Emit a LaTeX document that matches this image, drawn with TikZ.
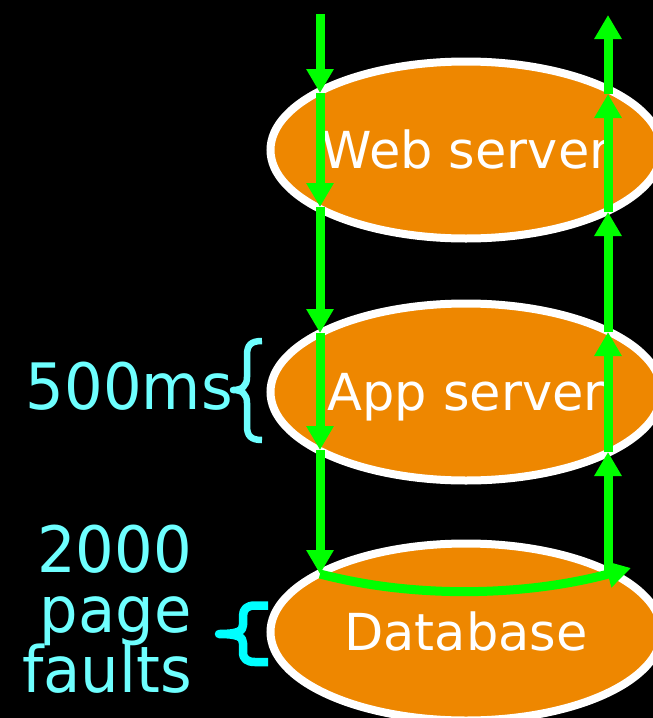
\documentclass[tikz,border=0pt]{standalone}
\usepackage{fontspec}
\setmainfont{DejaVu Sans}
\newfontfamily\lblfont[FakeStretch=0.95]{DejaVu Sans}
\usetikzlibrary{arrows.meta,shapes.geometric}
\definecolor{boxorange}{RGB}{238,135,0}
\definecolor{flowgreen}{RGB}{0,255,0}
\definecolor{lblcyan}{RGB}{110,255,255}
\definecolor{bracecyan}{RGB}{0,255,255}
\begin{document}
\begin{tikzpicture}[x=1pt,y=-1pt,
  server/.style={ellipse, draw=white, line width=8pt, fill=boxorange,
    minimum width=391pt, minimum height=177pt, inner sep=0pt},
  servertext/.style={text=white, inner sep=0pt,
    font=\fontsize{51}{51}\selectfont, text height=37pt, text depth=0pt},
  flow/.style={draw=flowgreen, line width=9pt, -{Triangle[length=24pt,width=26pt]}},
  lbl/.style={text=lblcyan, inner sep=0pt, font=\lblfont\fontsize{64}{64}\selectfont},
  bracestyle/.style={line join=round, line cap=butt}
]
\useasboundingbox (0,0) rectangle (653,718);
\fill[black] (0,0) rectangle (653,718);
\clip (0,0) rectangle (653,718);

% servers
\node[server] (web) at (466,150) {};
\node[server] (app) at (466,392) {};
\node[server] (db)  at (466,632) {};
\node[servertext] (webtxt) at (web.center) {Web server};
\node[servertext] (apptxt) at (app.center) {App server};
\node[servertext] (dbtxt)  at (db.center)  {Database};

% braces
\draw[bracestyle, draw=lblcyan, line width=6.5pt]
  (262,341) .. controls (251,341) and (247,345) .. (247,355) -- (247,377)
  .. controls (247,386) and (242,390) .. (233,390)
  .. controls (242,390) and (247,394) .. (247,403) -- (247,426)
  .. controls (247,436) and (251,440) .. (262,440);
\draw[bracestyle, draw=bracecyan, line width=8.5pt]
  (268,605.5) -- (255,605.5) .. controls (247,605.5) and (243,609) .. (243,616) -- (243,625)
  .. controls (243,631) and (238,634) .. (219,634)
  .. controls (238,634) and (243,637) .. (243,643) -- (243,652)
  .. controls (243,659) and (247,662) .. (255,662) -- (268,662);

% labels
\node[lbl, anchor=base east] (ms) at (233,409) {500ms};
\node[lbl, anchor=base east] (n2000) at (192,572) {2000};
\node[lbl, anchor=base east] (npage) at (192,632) {page};
\node[lbl, anchor=base east] (nfaults) at (192,692) {faults};

% flow coordinates
\coordinate (L0) at (320,14);
\coordinate (L1) at (320,93);
\coordinate (L2) at (320,207);
\coordinate (L3) at (320,333);
\coordinate (L4) at (320,450);
\coordinate (L5) at (320,574);
\coordinate (C)  at (631,568);
\coordinate (R0) at (608,572);
\coordinate (R1) at (608,452);
\coordinate (R2) at (608,332);
\coordinate (R3) at (608,212);
\coordinate (R4) at (608,94);
\coordinate (R5) at (608,15);

% downward path
\draw[flow] (L0) -- (L1);
\draw[flow] (L1) -- (L2);
\draw[flow] (L2) -- (L3);
\draw[flow] (L3) -- (L4);
\draw[flow] (L4) -- (L5);
% through the database
\draw[flow] (L5) .. controls (420,600) and (530,595) .. (C);
% upward path
\draw[flow] (R0) -- (R1);
\draw[flow] (R1) -- (R2);
\draw[flow] (R2) -- (R3);
\draw[flow] (R3) -- (R4);
\draw[flow] (R4) -- (R5);
\end{tikzpicture}
\end{document}
